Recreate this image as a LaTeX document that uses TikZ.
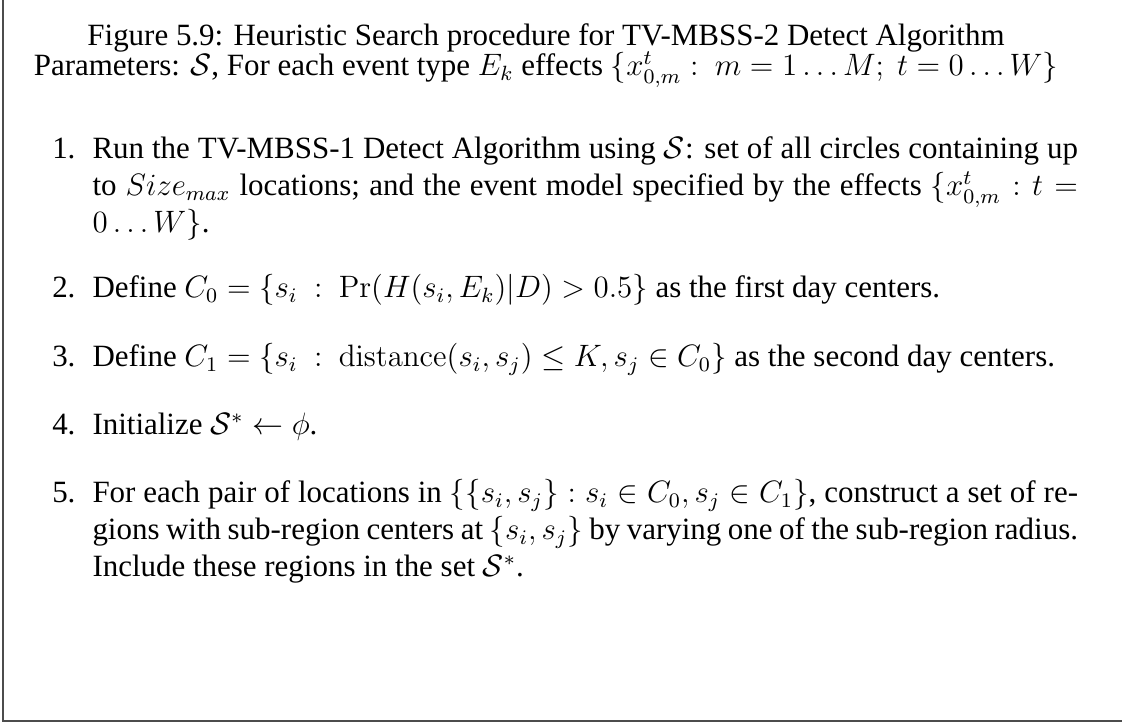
\documentclass[tikz,border=0pt]{standalone}
\usepackage[no-math]{fontspec}
\setmainfont{Liberation Serif}
\usepackage{amsmath}
\usetikzlibrary{positioning}

\newcommand{\steptext}[1]{\parbox[t]{382pt}{#1}}

\begin{document}
\begin{tikzpicture}[x=0.3876pt,y=-0.3876pt,
  every node/.style={inner sep=0pt,font=\fontsize{12}{14.2}\selectfont},
  itemtext/.style={anchor=base west},
  itemnum/.style={anchor=base east}]
\useasboundingbox (0,0) rectangle (1122,725);
% frame (only left and bottom edges are inside the picture)
\draw[line width=0.9pt,black!70] (3,-20) -- (3,721) -- (1140,721);
% caption
\node[anchor=base] (title) at (546,46) {Figure 5.9: Heuristic Search procedure for TV-MBSS-2 Detect Algorithm};
\node[anchor=base] (param) at (546,76) {Parameters: $\mathcal{S}$, For each event type $E_k$ effects $\{x_{0,m}^t:\ m=1\ldots M;\ t=0\ldots W\}$};
% steps
\node[itemnum] (n1) at (76,159) {1.};
\node[itemtext] (s1) at (92,159) {\steptext{Run the TV-MBSS-1 Detect Algorithm using $\mathcal{S}$: set of all circles containing up\linebreak to $Size_{max}$ locations; and the event model specified by the effects $\{x_{0,m}^t : t =$\linebreak $0\ldots W\}$.}};
\node[itemnum] (n2) at (76,298) {2.};
\node[itemtext] (s2) at (92,298) {\steptext{Define $C_0=\{s_i\ :\ \Pr(H(s_i,E_k)|D)>0.5\}$ as the first day centers.}};
\node[itemnum] (n3) at (76,367) {3.};
\node[itemtext] (s3) at (92,367) {\steptext{Define $C_1=\{s_i\ :\ \mathrm{distance}(s_i,s_j)\le K, s_j\in C_0\}$ as the second day centers.}};
\node[itemnum] (n4) at (76,435) {4.};
\node[itemtext] (s4) at (92,435) {\steptext{Initialize $\mathcal{S}^*\leftarrow\phi$.}};
\node[itemnum] (n5) at (76,503) {5.};
\node[itemtext] (s5) at (92,503) {\steptext{For each pair of locations in $\{\{s_i,s_j\}:s_i\in C_0,s_j\in C_1\}$, construct a set of re-\linebreak gions with sub-region centers at $\{s_i,s_j\}$ by varying one of the sub-region radius.\linebreak Include these regions in the set $\mathcal{S}^*$.}};
\end{tikzpicture}
\end{document}
